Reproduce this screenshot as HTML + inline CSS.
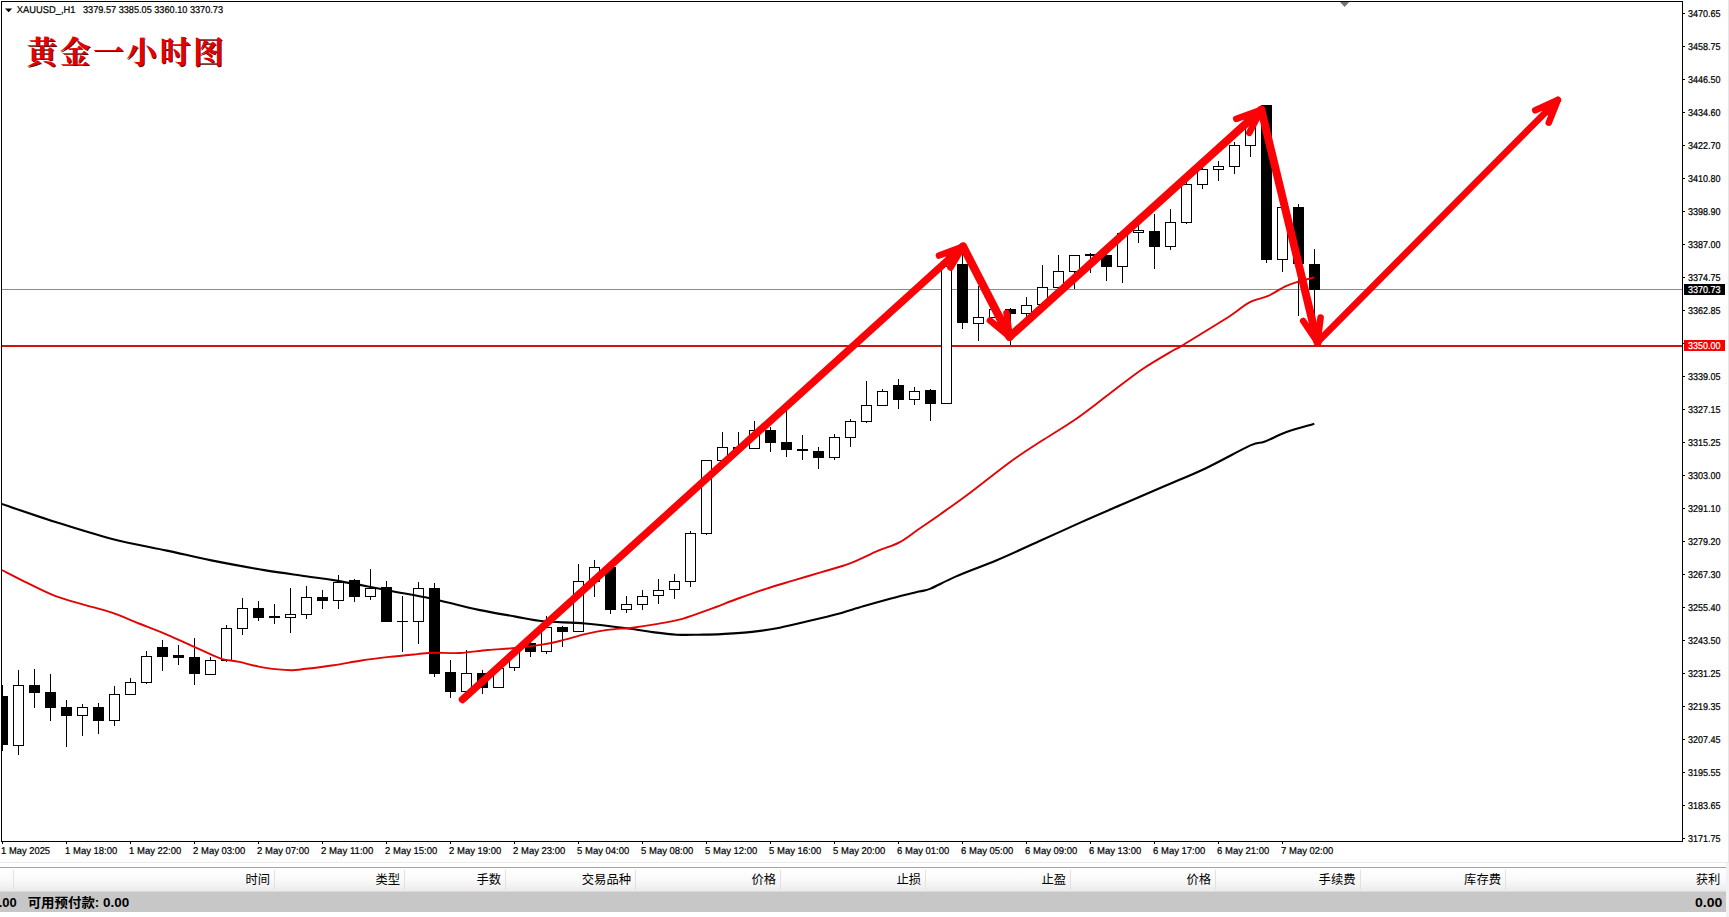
<!DOCTYPE html>
<html lang="zh"><head><meta charset="utf-8"><title>黄金一小时图</title>
<style>
html,body{margin:0;padding:0;background:#fff;}
body{width:1729px;height:917px;overflow:hidden;position:relative;font-family:"Liberation Sans","Noto Sans CJK SC",sans-serif;}
svg{position:absolute;left:0;top:0;display:block;}
.ax{font-family:"Liberation Sans","Noto Sans CJK SC",sans-serif;font-size:9.9px;fill:#000;stroke:#000;stroke-width:0.22px;text-rendering:geometricPrecision;}
.hd{font-family:"Liberation Sans","Noto Sans CJK SC",sans-serif;font-size:12.3px;fill:#000;}
.bd{font-family:"Liberation Sans","Noto Sans CJK SC",sans-serif;font-size:13px;font-weight:bold;fill:#000;}
.ttl{font-family:"Liberation Serif","Noto Serif CJK SC",serif;font-weight:700;font-size:30.6px;}
</style></head><body>
<svg width="1729" height="917" viewBox="0 0 1729 917">
<defs><clipPath id="cp"><rect x="2" y="2" width="1680" height="839"/></clipPath>
<linearGradient id="hg" x1="0" y1="0" x2="0" y2="1"><stop offset="0" stop-color="#ffffff"/><stop offset="0.45" stop-color="#fbfbfb"/><stop offset="1" stop-color="#ececec"/></linearGradient></defs>
<rect x="0" y="0" width="1729" height="917" fill="#fff"/>
<g shape-rendering="crispEdges" fill="#000">
<rect x="1" y="1" width="1682" height="1"/>
<rect x="1" y="1" width="1" height="841"/>
<rect x="1682" y="1" width="1" height="841"/>
<rect x="1" y="841" width="1682" height="1"/>
<rect x="1683" y="13" width="2" height="1"/>
<rect x="1683" y="46" width="2" height="1"/>
<rect x="1683" y="79" width="2" height="1"/>
<rect x="1683" y="112" width="2" height="1"/>
<rect x="1683" y="145" width="2" height="1"/>
<rect x="1683" y="178" width="2" height="1"/>
<rect x="1683" y="211" width="2" height="1"/>
<rect x="1683" y="244" width="2" height="1"/>
<rect x="1683" y="277" width="2" height="1"/>
<rect x="1683" y="310" width="2" height="1"/>
<rect x="1683" y="343" width="2" height="1"/>
<rect x="1683" y="376" width="2" height="1"/>
<rect x="1683" y="409" width="2" height="1"/>
<rect x="1683" y="442" width="2" height="1"/>
<rect x="1683" y="475" width="2" height="1"/>
<rect x="1683" y="508" width="2" height="1"/>
<rect x="1683" y="541" width="2" height="1"/>
<rect x="1683" y="574" width="2" height="1"/>
<rect x="1683" y="607" width="2" height="1"/>
<rect x="1683" y="640" width="2" height="1"/>
<rect x="1683" y="673" width="2" height="1"/>
<rect x="1683" y="706" width="2" height="1"/>
<rect x="1683" y="739" width="2" height="1"/>
<rect x="1683" y="772" width="2" height="1"/>
<rect x="1683" y="805" width="2" height="1"/>
<rect x="1683" y="838" width="2" height="1"/>
<rect x="2" y="842" width="1" height="2"/>
<rect x="66" y="842" width="1" height="2"/>
<rect x="130" y="842" width="1" height="2"/>
<rect x="194" y="842" width="1" height="2"/>
<rect x="258" y="842" width="1" height="2"/>
<rect x="322" y="842" width="1" height="2"/>
<rect x="386" y="842" width="1" height="2"/>
<rect x="450" y="842" width="1" height="2"/>
<rect x="514" y="842" width="1" height="2"/>
<rect x="578" y="842" width="1" height="2"/>
<rect x="642" y="842" width="1" height="2"/>
<rect x="706" y="842" width="1" height="2"/>
<rect x="770" y="842" width="1" height="2"/>
<rect x="834" y="842" width="1" height="2"/>
<rect x="898" y="842" width="1" height="2"/>
<rect x="962" y="842" width="1" height="2"/>
<rect x="1026" y="842" width="1" height="2"/>
<rect x="1090" y="842" width="1" height="2"/>
<rect x="1154" y="842" width="1" height="2"/>
<rect x="1218" y="842" width="1" height="2"/>
<rect x="1282" y="842" width="1" height="2"/>
</g>
<path d="M1340 2 L1349.2 2 L1344.6 7 Z" fill="#6f7780"/>
<g clip-path="url(#cp)">
<rect x="2" y="289" width="1680" height="1" fill="#7f8f9f" shape-rendering="crispEdges"/>
<rect x="2" y="345" width="1680" height="2" fill="#cb1515" shape-rendering="crispEdges"/>
<g shape-rendering="crispEdges">
<rect x="2" y="685" width="1" height="66" fill="#000"/>
<rect x="-3" y="696" width="11" height="49" fill="#000"/>
<rect x="18" y="670" width="1" height="85" fill="#000"/>
<rect x="13" y="685" width="11" height="61" fill="#000"/>
<rect x="14" y="686" width="9" height="59" fill="#fff"/>
<rect x="34" y="669" width="1" height="39" fill="#000"/>
<rect x="29" y="685" width="11" height="8" fill="#000"/>
<rect x="50" y="674" width="1" height="47" fill="#000"/>
<rect x="45" y="692" width="11" height="16" fill="#000"/>
<rect x="66" y="700" width="1" height="47" fill="#000"/>
<rect x="61" y="707" width="11" height="9" fill="#000"/>
<rect x="82" y="704" width="1" height="32" fill="#000"/>
<rect x="77" y="707" width="11" height="9" fill="#000"/>
<rect x="78" y="708" width="9" height="7" fill="#fff"/>
<rect x="98" y="703" width="1" height="31" fill="#000"/>
<rect x="93" y="707" width="11" height="14" fill="#000"/>
<rect x="114" y="686" width="1" height="40" fill="#000"/>
<rect x="109" y="694" width="11" height="27" fill="#000"/>
<rect x="110" y="695" width="9" height="25" fill="#fff"/>
<rect x="130" y="678" width="1" height="17" fill="#000"/>
<rect x="125" y="682" width="11" height="13" fill="#000"/>
<rect x="126" y="683" width="9" height="11" fill="#fff"/>
<rect x="146" y="651" width="1" height="33" fill="#000"/>
<rect x="141" y="656" width="11" height="27" fill="#000"/>
<rect x="142" y="657" width="9" height="25" fill="#fff"/>
<rect x="162" y="640" width="1" height="31" fill="#000"/>
<rect x="157" y="647" width="11" height="10" fill="#000"/>
<rect x="178" y="645" width="1" height="20" fill="#000"/>
<rect x="173" y="655" width="11" height="3" fill="#000"/>
<rect x="194" y="638" width="1" height="47" fill="#000"/>
<rect x="189" y="657" width="11" height="17" fill="#000"/>
<rect x="210" y="657" width="1" height="18" fill="#000"/>
<rect x="205" y="660" width="11" height="15" fill="#000"/>
<rect x="206" y="661" width="9" height="13" fill="#fff"/>
<rect x="226" y="625" width="1" height="37" fill="#000"/>
<rect x="221" y="628" width="11" height="33" fill="#000"/>
<rect x="222" y="629" width="9" height="31" fill="#fff"/>
<rect x="242" y="598" width="1" height="37" fill="#000"/>
<rect x="237" y="608" width="11" height="21" fill="#000"/>
<rect x="238" y="609" width="9" height="19" fill="#fff"/>
<rect x="258" y="601" width="1" height="20" fill="#000"/>
<rect x="253" y="608" width="11" height="10" fill="#000"/>
<rect x="274" y="604" width="1" height="20" fill="#000"/>
<rect x="269" y="616" width="11" height="2" fill="#000"/>
<rect x="290" y="588" width="1" height="45" fill="#000"/>
<rect x="285" y="614" width="11" height="4" fill="#000"/>
<rect x="286" y="615" width="9" height="2" fill="#fff"/>
<rect x="306" y="586" width="1" height="33" fill="#000"/>
<rect x="301" y="597" width="11" height="18" fill="#000"/>
<rect x="302" y="598" width="9" height="16" fill="#fff"/>
<rect x="322" y="590" width="1" height="19" fill="#000"/>
<rect x="317" y="597" width="11" height="4" fill="#000"/>
<rect x="338" y="575" width="1" height="34" fill="#000"/>
<rect x="333" y="582" width="11" height="19" fill="#000"/>
<rect x="334" y="583" width="9" height="17" fill="#fff"/>
<rect x="354" y="579" width="1" height="23" fill="#000"/>
<rect x="349" y="580" width="11" height="17" fill="#000"/>
<rect x="370" y="569" width="1" height="31" fill="#000"/>
<rect x="365" y="588" width="11" height="9" fill="#000"/>
<rect x="366" y="589" width="9" height="7" fill="#fff"/>
<rect x="386" y="581" width="1" height="41" fill="#000"/>
<rect x="381" y="587" width="11" height="35" fill="#000"/>
<rect x="402" y="596" width="1" height="56" fill="#000"/>
<rect x="397" y="621" width="11" height="1" fill="#000"/>
<rect x="418" y="582" width="1" height="62" fill="#000"/>
<rect x="413" y="588" width="11" height="34" fill="#000"/>
<rect x="414" y="589" width="9" height="32" fill="#fff"/>
<rect x="434" y="583" width="1" height="94" fill="#000"/>
<rect x="429" y="588" width="11" height="86" fill="#000"/>
<rect x="450" y="660" width="1" height="38" fill="#000"/>
<rect x="445" y="672" width="11" height="20" fill="#000"/>
<rect x="466" y="650" width="1" height="42" fill="#000"/>
<rect x="461" y="673" width="11" height="19" fill="#000"/>
<rect x="462" y="674" width="9" height="17" fill="#fff"/>
<rect x="482" y="670" width="1" height="24" fill="#000"/>
<rect x="477" y="673" width="11" height="15" fill="#000"/>
<rect x="498" y="664" width="1" height="24" fill="#000"/>
<rect x="493" y="668" width="11" height="20" fill="#000"/>
<rect x="494" y="669" width="9" height="18" fill="#fff"/>
<rect x="514" y="648" width="1" height="23" fill="#000"/>
<rect x="509" y="652" width="11" height="16" fill="#000"/>
<rect x="510" y="653" width="9" height="14" fill="#fff"/>
<rect x="530" y="640" width="1" height="17" fill="#000"/>
<rect x="525" y="643" width="11" height="9" fill="#000"/>
<rect x="546" y="616" width="1" height="38" fill="#000"/>
<rect x="541" y="627" width="11" height="25" fill="#000"/>
<rect x="542" y="628" width="9" height="23" fill="#fff"/>
<rect x="562" y="626" width="1" height="21" fill="#000"/>
<rect x="557" y="627" width="11" height="5" fill="#000"/>
<rect x="578" y="564" width="1" height="68" fill="#000"/>
<rect x="573" y="581" width="11" height="51" fill="#000"/>
<rect x="574" y="582" width="9" height="49" fill="#fff"/>
<rect x="594" y="560" width="1" height="37" fill="#000"/>
<rect x="589" y="567" width="11" height="15" fill="#000"/>
<rect x="590" y="568" width="9" height="13" fill="#fff"/>
<rect x="610" y="566" width="1" height="48" fill="#000"/>
<rect x="605" y="567" width="11" height="43" fill="#000"/>
<rect x="626" y="596" width="1" height="17" fill="#000"/>
<rect x="621" y="604" width="11" height="6" fill="#000"/>
<rect x="622" y="605" width="9" height="4" fill="#fff"/>
<rect x="642" y="590" width="1" height="20" fill="#000"/>
<rect x="637" y="596" width="11" height="9" fill="#000"/>
<rect x="638" y="597" width="9" height="7" fill="#fff"/>
<rect x="658" y="579" width="1" height="25" fill="#000"/>
<rect x="653" y="590" width="11" height="6" fill="#000"/>
<rect x="654" y="591" width="9" height="4" fill="#fff"/>
<rect x="674" y="574" width="1" height="25" fill="#000"/>
<rect x="669" y="581" width="11" height="9" fill="#000"/>
<rect x="670" y="582" width="9" height="7" fill="#fff"/>
<rect x="690" y="531" width="1" height="56" fill="#000"/>
<rect x="685" y="533" width="11" height="49" fill="#000"/>
<rect x="686" y="534" width="9" height="47" fill="#fff"/>
<rect x="706" y="460" width="1" height="75" fill="#000"/>
<rect x="701" y="460" width="11" height="74" fill="#000"/>
<rect x="702" y="461" width="9" height="72" fill="#fff"/>
<rect x="722" y="432" width="1" height="29" fill="#000"/>
<rect x="717" y="447" width="11" height="14" fill="#000"/>
<rect x="718" y="448" width="9" height="12" fill="#fff"/>
<rect x="738" y="432" width="1" height="20" fill="#000"/>
<rect x="733" y="447" width="11" height="3" fill="#000"/>
<rect x="754" y="421" width="1" height="28" fill="#000"/>
<rect x="749" y="430" width="11" height="19" fill="#000"/>
<rect x="750" y="431" width="9" height="17" fill="#fff"/>
<rect x="770" y="427" width="1" height="25" fill="#000"/>
<rect x="765" y="430" width="11" height="13" fill="#000"/>
<rect x="786" y="410" width="1" height="47" fill="#000"/>
<rect x="781" y="442" width="11" height="8" fill="#000"/>
<rect x="802" y="435" width="1" height="25" fill="#000"/>
<rect x="797" y="449" width="11" height="2" fill="#000"/>
<rect x="818" y="447" width="1" height="22" fill="#000"/>
<rect x="813" y="451" width="11" height="7" fill="#000"/>
<rect x="834" y="434" width="1" height="26" fill="#000"/>
<rect x="829" y="437" width="11" height="21" fill="#000"/>
<rect x="830" y="438" width="9" height="19" fill="#fff"/>
<rect x="850" y="419" width="1" height="28" fill="#000"/>
<rect x="845" y="421" width="11" height="17" fill="#000"/>
<rect x="846" y="422" width="9" height="15" fill="#fff"/>
<rect x="866" y="381" width="1" height="42" fill="#000"/>
<rect x="861" y="405" width="11" height="17" fill="#000"/>
<rect x="862" y="406" width="9" height="15" fill="#fff"/>
<rect x="882" y="389" width="1" height="17" fill="#000"/>
<rect x="877" y="391" width="11" height="15" fill="#000"/>
<rect x="878" y="392" width="9" height="13" fill="#fff"/>
<rect x="898" y="379" width="1" height="30" fill="#000"/>
<rect x="893" y="385" width="11" height="15" fill="#000"/>
<rect x="914" y="387" width="1" height="18" fill="#000"/>
<rect x="909" y="391" width="11" height="9" fill="#000"/>
<rect x="910" y="392" width="9" height="7" fill="#fff"/>
<rect x="930" y="389" width="1" height="32" fill="#000"/>
<rect x="925" y="390" width="11" height="14" fill="#000"/>
<rect x="946" y="252" width="1" height="152" fill="#000"/>
<rect x="941" y="266" width="11" height="138" fill="#000"/>
<rect x="942" y="267" width="9" height="136" fill="#fff"/>
<rect x="962" y="254" width="1" height="75" fill="#000"/>
<rect x="957" y="264" width="11" height="59" fill="#000"/>
<rect x="978" y="286" width="1" height="55" fill="#000"/>
<rect x="973" y="317" width="11" height="7" fill="#000"/>
<rect x="974" y="318" width="9" height="5" fill="#fff"/>
<rect x="994" y="302" width="1" height="16" fill="#000"/>
<rect x="989" y="309" width="11" height="9" fill="#000"/>
<rect x="990" y="310" width="9" height="7" fill="#fff"/>
<rect x="1010" y="308" width="1" height="37" fill="#000"/>
<rect x="1005" y="309" width="11" height="5" fill="#000"/>
<rect x="1026" y="297" width="1" height="20" fill="#000"/>
<rect x="1021" y="305" width="11" height="9" fill="#000"/>
<rect x="1022" y="306" width="9" height="7" fill="#fff"/>
<rect x="1042" y="265" width="1" height="40" fill="#000"/>
<rect x="1037" y="287" width="11" height="18" fill="#000"/>
<rect x="1038" y="288" width="9" height="16" fill="#fff"/>
<rect x="1058" y="255" width="1" height="33" fill="#000"/>
<rect x="1053" y="271" width="11" height="17" fill="#000"/>
<rect x="1054" y="272" width="9" height="15" fill="#fff"/>
<rect x="1074" y="255" width="1" height="34" fill="#000"/>
<rect x="1069" y="255" width="11" height="17" fill="#000"/>
<rect x="1070" y="256" width="9" height="15" fill="#fff"/>
<rect x="1090" y="253" width="1" height="20" fill="#000"/>
<rect x="1085" y="254" width="11" height="2" fill="#000"/>
<rect x="1106" y="252" width="1" height="29" fill="#000"/>
<rect x="1101" y="255" width="11" height="12" fill="#000"/>
<rect x="1122" y="233" width="1" height="50" fill="#000"/>
<rect x="1117" y="233" width="11" height="34" fill="#000"/>
<rect x="1118" y="234" width="9" height="32" fill="#fff"/>
<rect x="1138" y="216" width="1" height="27" fill="#000"/>
<rect x="1133" y="230" width="11" height="3" fill="#000"/>
<rect x="1134" y="231" width="9" height="1" fill="#fff"/>
<rect x="1154" y="214" width="1" height="55" fill="#000"/>
<rect x="1149" y="231" width="11" height="16" fill="#000"/>
<rect x="1170" y="209" width="1" height="41" fill="#000"/>
<rect x="1165" y="222" width="11" height="25" fill="#000"/>
<rect x="1166" y="223" width="9" height="23" fill="#fff"/>
<rect x="1186" y="182" width="1" height="42" fill="#000"/>
<rect x="1181" y="184" width="11" height="39" fill="#000"/>
<rect x="1182" y="185" width="9" height="37" fill="#fff"/>
<rect x="1202" y="167" width="1" height="22" fill="#000"/>
<rect x="1197" y="169" width="11" height="16" fill="#000"/>
<rect x="1198" y="170" width="9" height="14" fill="#fff"/>
<rect x="1218" y="161" width="1" height="20" fill="#000"/>
<rect x="1213" y="166" width="11" height="4" fill="#000"/>
<rect x="1214" y="167" width="9" height="2" fill="#fff"/>
<rect x="1234" y="142" width="1" height="32" fill="#000"/>
<rect x="1229" y="145" width="11" height="22" fill="#000"/>
<rect x="1230" y="146" width="9" height="20" fill="#fff"/>
<rect x="1250" y="119" width="1" height="38" fill="#000"/>
<rect x="1245" y="121" width="11" height="25" fill="#000"/>
<rect x="1246" y="122" width="9" height="23" fill="#fff"/>
<rect x="1266" y="105" width="1" height="158" fill="#000"/>
<rect x="1261" y="105" width="11" height="155" fill="#000"/>
<rect x="1282" y="207" width="1" height="65" fill="#000"/>
<rect x="1277" y="207" width="11" height="53" fill="#000"/>
<rect x="1278" y="208" width="9" height="51" fill="#fff"/>
<rect x="1298" y="204" width="1" height="112" fill="#000"/>
<rect x="1293" y="207" width="11" height="57" fill="#000"/>
<rect x="1314" y="249" width="1" height="69" fill="#000"/>
<rect x="1309" y="264" width="11" height="26" fill="#000"/>
</g>
<path d="M2.0 504.0 C10.9 507.0 37.4 516.2 55.6 522.0 C73.8 527.8 92.7 533.9 111.2 538.7 C129.8 543.5 150.2 547.0 166.9 550.6 C183.6 554.2 195.1 557.1 211.3 560.4 C227.5 563.6 248.4 567.5 264.2 570.1 C280.0 572.7 293.6 574.4 305.9 576.2 C318.2 578.0 324.0 578.5 337.9 580.9 C351.8 583.3 373.8 587.8 389.3 590.7 C404.8 593.6 419.2 596.0 431.0 598.5 C442.8 601.0 451.8 603.6 460.0 605.5 C468.2 607.4 470.7 608.2 480.0 610.1 C489.3 612.0 505.0 614.7 515.6 616.6 C526.2 618.5 531.8 620.1 543.4 621.3 C555.0 622.4 571.2 622.3 585.1 623.5 C599.0 624.7 615.3 626.8 626.9 628.3 C638.5 629.8 646.4 631.3 654.7 632.4 C663.0 633.5 669.5 634.3 676.9 634.7 C684.3 635.1 691.8 634.8 699.2 634.7 C706.6 634.6 712.6 634.6 721.4 634.1 C730.2 633.6 742.3 633.0 752.0 631.9 C761.7 630.8 770.5 629.5 779.8 627.7 C789.1 625.9 798.3 623.5 807.6 621.3 C816.9 619.1 826.1 617.1 835.4 614.6 C844.7 612.1 853.9 609.0 863.2 606.3 C872.5 603.6 881.7 601.0 891.0 598.5 C900.3 596.0 912.3 593.2 918.9 591.6 C925.5 590.0 924.5 591.1 930.6 588.6 C936.7 586.1 944.5 581.4 955.6 576.6 C966.7 571.8 983.4 565.9 997.3 560.0 C1011.2 554.1 1025.1 547.6 1039.0 541.3 C1052.9 535.0 1066.9 528.6 1080.8 522.4 C1094.7 516.2 1108.6 510.3 1122.5 504.3 C1136.4 498.3 1150.3 492.3 1164.2 486.3 C1178.1 480.3 1191.5 475.0 1205.9 468.2 C1220.3 461.4 1240.7 449.8 1250.4 445.4 C1260.1 441.0 1258.3 444.0 1264.3 441.8 C1270.3 439.6 1278.2 435.0 1286.5 432.0 C1294.8 429.0 1309.7 425.1 1314.3 423.7" fill="none" stroke="#000" stroke-width="2.1" stroke-linejoin="round"/>
<path d="M2.0 570.0 C6.3 572.2 18.9 578.8 27.8 583.2 C36.7 587.6 46.3 592.6 55.6 596.2 C64.9 599.8 74.1 601.9 83.4 604.6 C92.7 607.3 101.9 609.2 111.2 612.4 C120.5 615.5 129.7 619.8 139.0 623.5 C148.3 627.2 157.6 630.7 166.9 634.6 C176.2 638.5 187.3 643.8 194.7 647.1 C202.1 650.4 206.7 652.6 211.3 654.6 C215.9 656.6 217.8 657.9 222.5 659.1 C227.2 660.3 233.2 660.6 239.2 661.9 C245.2 663.1 252.1 665.4 258.6 666.6 C265.1 667.9 272.5 668.8 278.1 669.4 C283.7 670.0 287.4 670.3 292.0 670.2 C296.6 670.1 298.9 669.6 305.9 668.8 C312.8 668.0 324.4 666.6 333.7 665.2 C343.0 663.8 352.2 661.9 361.5 660.5 C370.8 659.1 380.0 658.0 389.3 656.9 C398.6 655.8 409.7 654.8 417.1 654.1 C424.5 653.4 426.7 652.9 433.8 652.7 C440.9 652.5 451.0 653.5 460.0 653.0 C469.0 652.5 478.5 650.8 487.8 650.0 C497.1 649.2 506.3 648.9 515.6 648.0 C524.9 647.1 535.5 645.7 543.4 644.4 C551.3 643.1 555.9 641.9 562.9 640.2 C569.9 638.5 577.7 635.8 585.1 634.1 C592.5 632.4 599.5 631.0 607.4 629.9 C615.3 628.8 624.5 628.6 632.4 627.7 C640.3 626.8 646.4 625.9 654.7 624.4 C663.1 622.9 673.2 621.3 682.5 618.8 C691.8 616.2 701.0 612.5 710.3 609.1 C719.6 605.7 728.8 601.9 738.1 598.5 C747.4 595.1 756.6 591.8 765.9 588.8 C775.2 585.8 784.4 583.2 793.7 580.4 C803.0 577.6 812.2 574.9 821.5 572.1 C830.8 569.3 840.0 567.2 849.3 563.7 C858.6 560.2 868.8 554.8 877.1 551.2 C885.5 547.6 892.4 546.0 899.4 542.3 C906.4 538.6 912.1 533.6 918.9 529.0 C925.7 524.4 931.6 520.5 940.0 514.5 C948.4 508.5 957.6 502.1 969.5 493.2 C981.4 484.3 998.7 470.2 1011.2 461.2 C1023.7 452.2 1033.9 445.9 1044.6 439.0 C1055.3 432.1 1064.5 426.9 1075.2 419.5 C1085.9 412.1 1097.5 402.8 1108.6 394.5 C1119.7 386.2 1131.0 376.9 1141.9 369.5 C1152.8 362.1 1167.3 353.9 1173.9 350.0 C1180.5 346.1 1172.2 351.6 1181.5 345.9 C1190.8 340.2 1218.8 323.2 1230.0 316.0 C1241.2 308.8 1242.6 306.0 1249.0 302.6 C1255.4 299.2 1262.2 298.6 1268.2 295.9 C1274.2 293.2 1280.2 288.8 1285.3 286.4 C1290.4 284.0 1293.8 283.1 1298.7 281.6 C1303.6 280.1 1311.9 278.1 1314.5 277.4" fill="none" stroke="#e00404" stroke-width="1.9" stroke-linejoin="round"/>
<g fill="none" stroke="#fb0207" stroke-linecap="round" stroke-linejoin="round">
<path stroke-width="7.4" d="M462.5 699.5 L963.0 246.5"/>
<path stroke-width="8.2" d="M963.0 246.5 L1009.6 336.8"/>
<path stroke-width="8.0" d="M1009.6 336.8 L1261.3 109.8"/>
<path stroke-width="8.0" d="M1261.3 109.8 L1317.5 342.2"/>
<path stroke-width="6.7" d="M1317.5 342.2 L1557.8 100.0"/>
<path stroke-width="6.6" d="M939.0 255.5 L963.0 246.5 L950.5 267.5"/>
<path stroke="none" fill="#fb0207" d="M963.0 246.5 L943.8 253.7 L953.0 263.3 Z"/>
<path stroke-width="6.6" d="M990.0 320.5 L1009.6 336.8 L1006.5 313.0"/>
<path stroke="none" fill="#fb0207" d="M1009.6 336.8 L993.9 323.8 L1007.1 317.8 Z"/>
<path stroke-width="6.6" d="M1236.3 118.8 L1261.3 109.8 L1249.3 132.8"/>
<path stroke="none" fill="#fb0207" d="M1261.3 109.8 L1241.3 117.0 L1251.7 128.2 Z"/>
<path stroke-width="6.6" d="M1303.2 321.0 L1317.5 342.2 L1320.6 317.5"/>
<path stroke="none" fill="#fb0207" d="M1317.5 342.2 L1306.1 325.2 L1320.0 322.4 Z"/>
<path stroke-width="6.6" d="M1535.3 110.3 L1557.8 100.0 L1548.8 122.6"/>
<path stroke="none" fill="#fb0207" d="M1557.8 100.0 L1539.8 108.2 L1550.6 118.1 Z"/>
</g>
</g>
<rect x="1684" y="284" width="41" height="11" fill="#000" shape-rendering="crispEdges"/>
<rect x="1684" y="340" width="41" height="11" fill="#f80000" shape-rendering="crispEdges"/>
<text class="ax" x="1688" y="16.9" textLength="32.5" lengthAdjust="spacingAndGlyphs">3470.65</text>
<text class="ax" x="1688" y="49.9" textLength="32.5" lengthAdjust="spacingAndGlyphs">3458.75</text>
<text class="ax" x="1688" y="82.9" textLength="32.5" lengthAdjust="spacingAndGlyphs">3446.50</text>
<text class="ax" x="1688" y="115.9" textLength="32.5" lengthAdjust="spacingAndGlyphs">3434.60</text>
<text class="ax" x="1688" y="148.9" textLength="32.5" lengthAdjust="spacingAndGlyphs">3422.70</text>
<text class="ax" x="1688" y="181.9" textLength="32.5" lengthAdjust="spacingAndGlyphs">3410.80</text>
<text class="ax" x="1688" y="214.9" textLength="32.5" lengthAdjust="spacingAndGlyphs">3398.90</text>
<text class="ax" x="1688" y="247.9" textLength="32.5" lengthAdjust="spacingAndGlyphs">3387.00</text>
<text class="ax" x="1688" y="280.9" textLength="32.5" lengthAdjust="spacingAndGlyphs">3374.75</text>
<text class="ax" x="1688" y="313.9" textLength="32.5" lengthAdjust="spacingAndGlyphs">3362.85</text>
<text class="ax" x="1688" y="379.9" textLength="32.5" lengthAdjust="spacingAndGlyphs">3339.05</text>
<text class="ax" x="1688" y="412.9" textLength="32.5" lengthAdjust="spacingAndGlyphs">3327.15</text>
<text class="ax" x="1688" y="445.9" textLength="32.5" lengthAdjust="spacingAndGlyphs">3315.25</text>
<text class="ax" x="1688" y="478.9" textLength="32.5" lengthAdjust="spacingAndGlyphs">3303.00</text>
<text class="ax" x="1688" y="511.9" textLength="32.5" lengthAdjust="spacingAndGlyphs">3291.10</text>
<text class="ax" x="1688" y="544.9" textLength="32.5" lengthAdjust="spacingAndGlyphs">3279.20</text>
<text class="ax" x="1688" y="577.9" textLength="32.5" lengthAdjust="spacingAndGlyphs">3267.30</text>
<text class="ax" x="1688" y="610.9" textLength="32.5" lengthAdjust="spacingAndGlyphs">3255.40</text>
<text class="ax" x="1688" y="643.9" textLength="32.5" lengthAdjust="spacingAndGlyphs">3243.50</text>
<text class="ax" x="1688" y="676.9" textLength="32.5" lengthAdjust="spacingAndGlyphs">3231.25</text>
<text class="ax" x="1688" y="709.9" textLength="32.5" lengthAdjust="spacingAndGlyphs">3219.35</text>
<text class="ax" x="1688" y="742.9" textLength="32.5" lengthAdjust="spacingAndGlyphs">3207.45</text>
<text class="ax" x="1688" y="775.9" textLength="32.5" lengthAdjust="spacingAndGlyphs">3195.55</text>
<text class="ax" x="1688" y="808.9" textLength="32.5" lengthAdjust="spacingAndGlyphs">3183.65</text>
<text class="ax" x="1688" y="841.9" textLength="32.5" lengthAdjust="spacingAndGlyphs">3171.75</text>
<text class="ax" x="1688" y="293" textLength="32.5" lengthAdjust="spacingAndGlyphs" style="fill:#fff;stroke:#fff">3370.73</text>
<text class="ax" x="1688" y="349" textLength="32.5" lengthAdjust="spacingAndGlyphs" style="fill:#fff;stroke:#fff">3350.00</text>
<text class="ax" x="1.1" y="854.3" textLength="49.0" lengthAdjust="spacingAndGlyphs">1 May 2025</text>
<text class="ax" x="65.1" y="854.3" textLength="52.2" lengthAdjust="spacingAndGlyphs">1 May 18:00</text>
<text class="ax" x="129.1" y="854.3" textLength="52.2" lengthAdjust="spacingAndGlyphs">1 May 22:00</text>
<text class="ax" x="193.1" y="854.3" textLength="52.2" lengthAdjust="spacingAndGlyphs">2 May 03:00</text>
<text class="ax" x="257.1" y="854.3" textLength="52.2" lengthAdjust="spacingAndGlyphs">2 May 07:00</text>
<text class="ax" x="321.1" y="854.3" textLength="52.2" lengthAdjust="spacingAndGlyphs">2 May 11:00</text>
<text class="ax" x="385.1" y="854.3" textLength="52.2" lengthAdjust="spacingAndGlyphs">2 May 15:00</text>
<text class="ax" x="449.1" y="854.3" textLength="52.2" lengthAdjust="spacingAndGlyphs">2 May 19:00</text>
<text class="ax" x="513.1" y="854.3" textLength="52.2" lengthAdjust="spacingAndGlyphs">2 May 23:00</text>
<text class="ax" x="577.1" y="854.3" textLength="52.2" lengthAdjust="spacingAndGlyphs">5 May 04:00</text>
<text class="ax" x="641.1" y="854.3" textLength="52.2" lengthAdjust="spacingAndGlyphs">5 May 08:00</text>
<text class="ax" x="705.1" y="854.3" textLength="52.2" lengthAdjust="spacingAndGlyphs">5 May 12:00</text>
<text class="ax" x="769.1" y="854.3" textLength="52.2" lengthAdjust="spacingAndGlyphs">5 May 16:00</text>
<text class="ax" x="833.1" y="854.3" textLength="52.2" lengthAdjust="spacingAndGlyphs">5 May 20:00</text>
<text class="ax" x="897.1" y="854.3" textLength="52.2" lengthAdjust="spacingAndGlyphs">6 May 01:00</text>
<text class="ax" x="961.1" y="854.3" textLength="52.2" lengthAdjust="spacingAndGlyphs">6 May 05:00</text>
<text class="ax" x="1025.1" y="854.3" textLength="52.2" lengthAdjust="spacingAndGlyphs">6 May 09:00</text>
<text class="ax" x="1089.1" y="854.3" textLength="52.2" lengthAdjust="spacingAndGlyphs">6 May 13:00</text>
<text class="ax" x="1153.1" y="854.3" textLength="52.2" lengthAdjust="spacingAndGlyphs">6 May 17:00</text>
<text class="ax" x="1217.1" y="854.3" textLength="52.2" lengthAdjust="spacingAndGlyphs">6 May 21:00</text>
<text class="ax" x="1281.1" y="854.3" textLength="52.2" lengthAdjust="spacingAndGlyphs">7 May 02:00</text>
<path d="M5 8.5 L12.2 8.5 L8.6 12.3 Z" fill="#000"/>
<text class="ax" x="16.8" y="12.9" textLength="58.7" lengthAdjust="spacingAndGlyphs">XAUUSD_,H1</text>
<text class="ax" x="83" y="12.9" textLength="140" lengthAdjust="spacingAndGlyphs">3379.57 3385.05 3360.10 3370.73</text>
<text class="ttl" x="27.4" y="64.3" textLength="197.2" lengthAdjust="spacing" fill="#600000">黄金一小时图</text>
<text class="ttl" x="26.4" y="63.3" textLength="197.2" lengthAdjust="spacing" fill="#e60000">黄金一小时图</text>
<g shape-rendering="crispEdges">
<rect x="1728" y="0" width="1" height="863" fill="#e6e6e6"/>
<rect x="0" y="862" width="1729" height="1" fill="#ebebeb"/>
<rect x="1726" y="863" width="3" height="54" fill="#f2f2f2"/>
<rect x="0" y="867" width="1726" height="1" fill="#a6a6a6"/>
<rect x="0" y="868" width="1726" height="23" fill="url(#hg)"/>
<rect x="0" y="891" width="1726" height="1" fill="#dadada"/>
<rect x="0" y="892" width="1726" height="20" fill="#c7c7c7"/>
<rect x="13" y="870" width="1" height="20" fill="#e2e2e2"/>
<rect x="274" y="870" width="1" height="20" fill="#e2e2e2"/>
<rect x="404" y="870" width="1" height="20" fill="#e2e2e2"/>
<rect x="505" y="870" width="1" height="20" fill="#e2e2e2"/>
<rect x="635" y="870" width="1" height="20" fill="#e2e2e2"/>
<rect x="780" y="870" width="1" height="20" fill="#e2e2e2"/>
<rect x="925" y="870" width="1" height="20" fill="#e2e2e2"/>
<rect x="1070" y="870" width="1" height="20" fill="#e2e2e2"/>
<rect x="1215" y="870" width="1" height="20" fill="#e2e2e2"/>
<rect x="1360" y="870" width="1" height="20" fill="#e2e2e2"/>
<rect x="1505" y="870" width="1" height="20" fill="#e2e2e2"/>
</g>
<text class="hd" x="270.0" y="884.4" text-anchor="end">时间</text>
<text class="hd" x="400.0" y="884.4" text-anchor="end">类型</text>
<text class="hd" x="501.0" y="884.4" text-anchor="end">手数</text>
<text class="hd" x="631.0" y="884.4" text-anchor="end">交易品种</text>
<text class="hd" x="776.0" y="884.4" text-anchor="end">价格</text>
<text class="hd" x="921.0" y="884.4" text-anchor="end">止损</text>
<text class="hd" x="1066.0" y="884.4" text-anchor="end">止盈</text>
<text class="hd" x="1211.0" y="884.4" text-anchor="end">价格</text>
<text class="hd" x="1355.5" y="884.4" text-anchor="end">手续费</text>
<text class="hd" x="1501.0" y="884.4" text-anchor="end">库存费</text>
<text class="hd" x="1720.4" y="884.4" text-anchor="end">获利</text>
<text class="bd" x="16.8" y="906.9" text-anchor="end">.00</text>
<text class="bd" x="27.7" y="906.9" textLength="101.5" lengthAdjust="spacingAndGlyphs">可用预付款: 0.00</text>
<text class="bd" x="1695" y="906.9" textLength="27.3" lengthAdjust="spacingAndGlyphs">0.00</text>
</svg></body></html>
